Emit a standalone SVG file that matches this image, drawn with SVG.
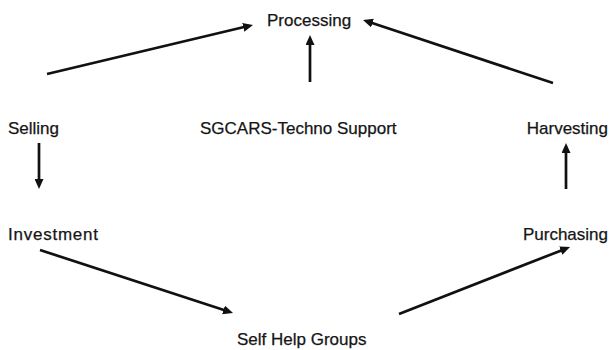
<svg xmlns="http://www.w3.org/2000/svg" width="609" height="350" viewBox="0 0 609 350">
<style>
.lbl{font-family:"Liberation Sans",Arial,sans-serif;font-size:17px;fill:#151515;stroke:#151515;stroke-width:0.25}
.c{stroke:#111;stroke-width:2.7;fill:none;marker-end:url(#ah)}
</style>
<defs>
<marker id="ah" viewBox="0 0 10 9" refX="2" refY="4.5" markerWidth="10" markerHeight="9" markerUnits="userSpaceOnUse" orient="auto">
<path d="M0,0 L10,4.5 L0,9 z" fill="#111"/>
</marker>
</defs>
<rect width="609" height="350" fill="#fff"/>
<g id="connectors">
<line class="c" x1="47" y1="74" x2="245.2" y2="26.8"/>
<line class="c" x1="310" y1="82" x2="310" y2="43"/>
<line class="c" x1="553" y1="83" x2="370.6" y2="22.5"/>
<line class="c" x1="39" y1="143" x2="39" y2="181"/>
<line class="c" x1="566" y1="189" x2="566" y2="151"/>
<line class="c" x1="40" y1="250" x2="225.4" y2="310.5"/>
<line class="c" x1="399" y1="314" x2="562.6" y2="249.9"/>
</g>
<g id="processing"><text class="lbl" x="267" y="26">Processing</text></g>
<g id="selling"><text class="lbl" x="8" y="134">Selling</text></g>
<g id="sgcars"><text class="lbl" x="200" y="134">SGCARS-Techno Support</text></g>
<g id="harvesting"><text class="lbl" x="608" y="134" text-anchor="end">Harvesting</text></g>
<g id="investment"><text class="lbl" x="8" y="240" textLength="90">Investment</text></g>
<g id="purchasing"><text class="lbl" x="608" y="240" text-anchor="end">Purchasing</text></g>
<g id="shg"><text class="lbl" x="237" y="345">Self Help Groups</text></g>
</svg>
